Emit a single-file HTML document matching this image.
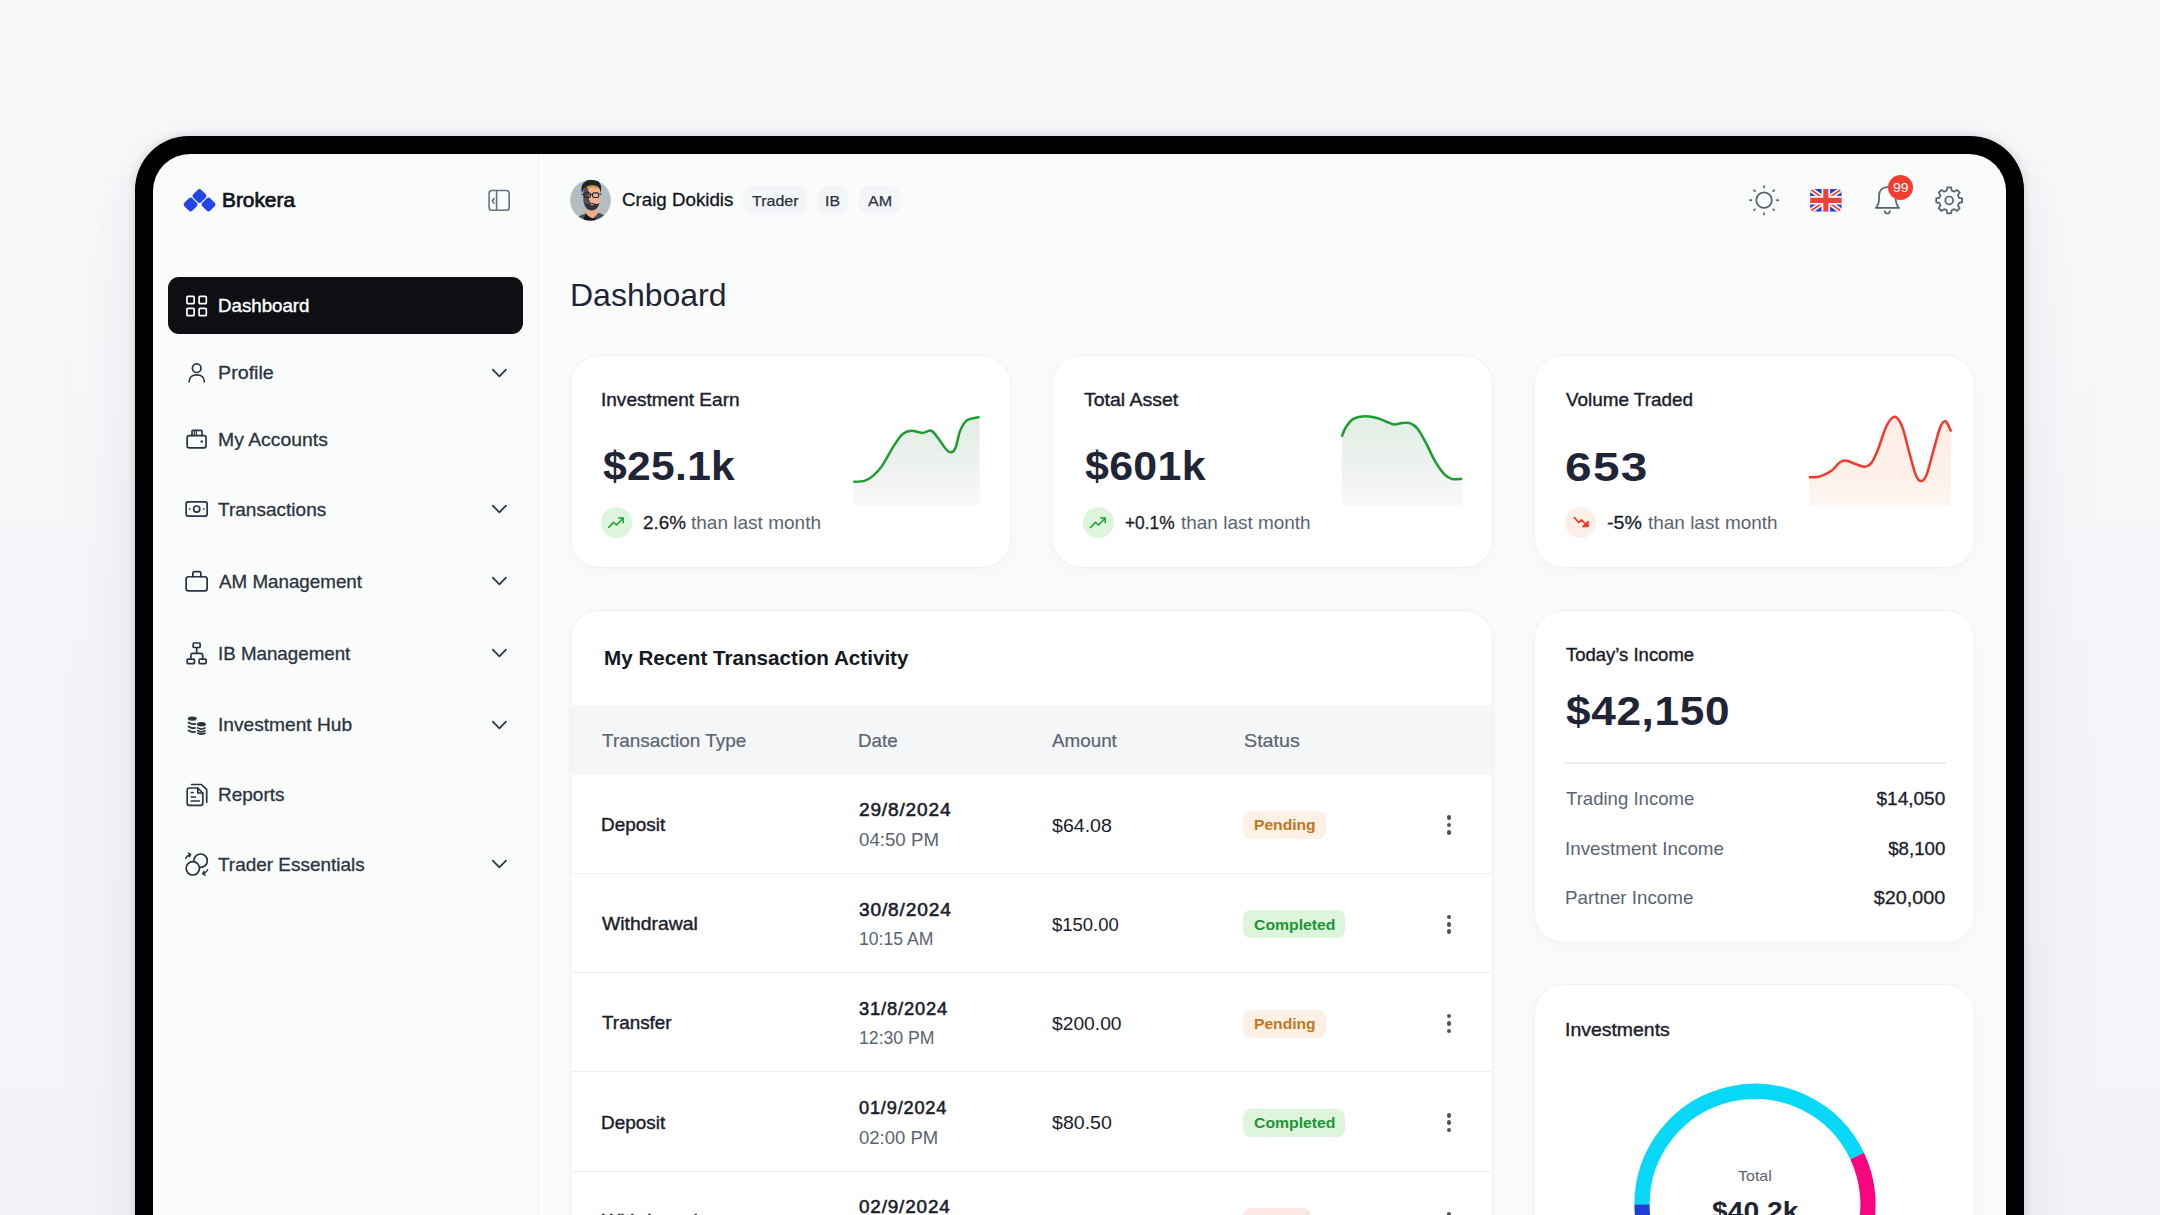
<!DOCTYPE html>
<html lang="en">
<head>
<meta charset="utf-8">
<title>Brokera Dashboard</title>
<style>
*{box-sizing:border-box;margin:0;padding:0}
html,body{width:2160px;height:1215px;overflow:hidden}
body{font-family:"Liberation Sans",sans-serif;background:#f7f8f9;color:#1b202b;position:relative}
.bg{position:absolute;left:0;top:0;width:2160px;height:1215px;background:linear-gradient(180deg,#f8f9fa 0%,#f7f8f9 25%,#f4f5f8 55%,#f3f4f7 100%)}
.device{position:absolute;left:135px;top:136px;width:1889px;height:1300px;background:#000;border-radius:54px;box-shadow:0 0 9px rgba(40,50,80,.17),0 10px 50px rgba(50,60,90,.05),0 30px 110px rgba(50,60,90,.04)}
.screen{position:absolute;left:18px;top:18px;width:1853px;height:1300px;background:#fafbfb;border-radius:37px;overflow:hidden}
.abs{position:absolute}
.t{position:absolute;white-space:nowrap;line-height:1;transform-origin:0 50%;display:block}
.n{font-weight:normal}
.n1{font-weight:normal;-webkit-text-stroke:.2px currentColor}
.m1{font-weight:normal;-webkit-text-stroke:.25px currentColor}
.m{font-weight:normal;-webkit-text-stroke:.28px currentColor}
.m2{font-weight:normal;-webkit-text-stroke:.38px currentColor}
.m3{font-weight:normal;-webkit-text-stroke:.55px currentColor}
.b2{font-weight:normal;-webkit-text-stroke:.7px currentColor}
.b{font-weight:bold}
.sidebar{position:absolute;left:0;top:0;width:386px;height:1300px;border-right:1.5px solid #eef0f2}
.navact{position:absolute;left:15.3px;top:123px;width:355px;height:57px;border-radius:11px;background:#0d0f12}
.ic{fill:none;stroke:#2b3340;stroke-width:1.7;stroke-linecap:round;stroke-linejoin:round}
.card{position:absolute;background:#fff;border-radius:28px;box-shadow:0 0 0 1px #f1f2f4,0 4px 18px rgba(30,40,70,.035)}
.tag{position:absolute;height:29.5px;border-radius:9px;background:#f4f5f8}
.dot{position:absolute;width:31px;height:31px;border-radius:50%}
.thead{position:absolute;left:0;width:100%;background:#f5f6f8}
.sep{position:absolute;left:0;width:100%;height:1px;background:#eff1f3}
.bd{position:absolute;height:28px;border-radius:8px}
.kb{position:absolute;width:4.6px;height:4.6px;border-radius:50%;background:#4a5361}
</style>
</head>
<body>
<div class="bg"></div>
<div class="device">
<div class="screen">

<!-- SIDEBAR -->
<div class="sidebar">
<svg class="abs" style="left:27px;top:30px" width="40" height="32" viewBox="180 184 40 32" ><g fill="#2246e4">
<rect x="-5.6" y="-5.6" width="11.2" height="11.2" rx="2.7" transform="translate(199.5 196) rotate(45)"/>
<rect x="-5.6" y="-5.6" width="11.2" height="11.2" rx="2.7" transform="translate(190.6 204.5) rotate(45)"/>
<rect x="-5.6" y="-5.6" width="11.2" height="11.2" rx="2.7" transform="translate(208.5 204.5) rotate(45)"/>
</g></svg>
<span id="brand" class="t b2" style="left:69.03px;top:36.61px;font-size:19.6px;color:#12151c;transform:scaleX(1.0642)">Brokera</span>
<svg class="abs" style="left:332px;top:32px" width="28" height="28" viewBox="485 186 28 28" fill="none" stroke="#66717f" stroke-width="1.600" stroke-linecap="round" stroke-linejoin="round"><rect x="489.1" y="190.5" width="20.1" height="19.800" rx="2.800"/><path d="M496.600 190.500v19.800"/><path d="M494 198.400l-1.800 2.400 1.800 2.400"/></svg>
<div class="navact"></div>
<svg class="abs" style="left:30px;top:138px" width="28" height="28" viewBox="183 292 28 28" fill="none" stroke="#fff" stroke-width="1.700" stroke-linejoin="round"><rect x="186.950" y="296.450" width="7.200" height="7.200" rx="1"/><rect x="199.100" y="296.450" width="7.200" height="7.200" rx="1"/><rect x="186.950" y="308.450" width="7.200" height="7.200" rx="1"/><rect x="199.100" y="308.450" width="7.200" height="7.200" rx="1"/></svg>
<span id="n0" class="t m2" style="left:65.11px;top:144.13px;font-size:17.8px;color:#ffffff;transform:scaleX(1.0515)">Dashboard</span>
<svg class="abs ic" style="left:30px;top:204px" width="28" height="28" viewBox="183 358 28 28" ><circle cx="196.700" cy="368.200" r="4.300"/><path d="M189.100 381.700C189.100 377.600 192.300 374.900 196.700 374.900S204.300 377.600 204.300 381.700"/></svg>
<span id="n1" class="t m" style="left:64.63px;top:210.83px;font-size:17.8px;color:#2b3340;transform:scaleX(1.1068)">Profile</span>
<svg class="abs ic" style="left:335px;top:210.9px" width="24" height="16" viewBox="488 364.9 24 16" style="stroke-width:1.500;stroke:#1f2530"><path d="M492.800 369.60l6.600 6.600 6.600-6.600"/></svg>
<svg class="abs ic" style="left:30px;top:271px" width="28" height="28" viewBox="183 425 28 28" ><rect x="187.150" y="435.650" width="18.900" height="12.200" rx="2"/><path d="M192 435.600v-4.300a1 1 0 0 1 1-1h8a1 1 0 0 1 1 1v4.300"/><path d="M194.300 430.500v5M196.400 430.500v5" stroke-width="1.200"/><circle cx="201.700" cy="441.500" r="1.200" fill="#2b3340" stroke="none"/></svg>
<span id="n2" class="t m" style="left:65.00px;top:278.03px;font-size:17.8px;color:#2b3340;transform:scaleX(1.0900)">My Accounts</span>
<svg class="abs ic" style="left:30px;top:341px" width="28" height="28" viewBox="183 495 28 28" ><rect x="186.150" y="501.950" width="21" height="14.100" rx="2"/><circle cx="196.700" cy="509.100" r="3.100"/><circle cx="189.700" cy="509.100" r=".9" fill="#2b3340" stroke="none"/><circle cx="203.700" cy="509.100" r=".9" fill="#2b3340" stroke="none"/></svg>
<span id="n3" class="t m" style="left:64.81px;top:347.53px;font-size:17.8px;color:#2b3340;transform:scaleX(1.0703)">Transactions</span>
<svg class="abs ic" style="left:335px;top:346.9px" width="24" height="16" viewBox="488 500.9 24 16" style="stroke-width:1.500;stroke:#1f2530"><path d="M492.800 505.60l6.600 6.600 6.600-6.600"/></svg>
<svg class="abs ic" style="left:30px;top:413px" width="28" height="28" viewBox="183 567 28 28" ><rect x="186.150" y="576.750" width="21" height="14.100" rx="2.400"/><path d="M192.850 576.700v-3.400a1.600 1.600 0 0 1 1.600-1.600h4.800a1.600 1.600 0 0 1 1.600 1.600v3.400"/></svg>
<span id="n4" class="t m" style="left:65.69px;top:419.73px;font-size:17.8px;color:#2b3340;transform:scaleX(1.0560)">AM Management</span>
<svg class="abs ic" style="left:335px;top:419.2px" width="24" height="16" viewBox="488 573.2 24 16" style="stroke-width:1.500;stroke:#1f2530"><path d="M492.800 577.90l6.600 6.600 6.600-6.600"/></svg>
<svg class="abs ic" style="left:30px;top:485px" width="28" height="28" viewBox="183 639 28 28" style="stroke-width:1.600"><rect x="193.200" y="643" width="6.900" height="4.500" rx=".8"/><rect x="187.200" y="659.100" width="7.300" height="4.500" rx=".8"/><rect x="199.100" y="659.100" width="7" height="4.500" rx=".8"/><path d="M196.700 647.600v5.700M190.900 659v-4.100a1.600 1.600 0 0 1 1.600-1.600h8.600a1.600 1.600 0 0 1 1.600 1.600v4.100"/></svg>
<span id="n5" class="t m" style="left:65.02px;top:491.73px;font-size:17.8px;color:#2b3340;transform:scaleX(1.0540)">IB Management</span>
<svg class="abs ic" style="left:335px;top:491.2px" width="24" height="16" viewBox="488 645.2 24 16" style="stroke-width:1.500;stroke:#1f2530"><path d="M492.800 649.90l6.600 6.600 6.600-6.600"/></svg>
<svg class="abs ic" style="left:30px;top:557px" width="28" height="28" viewBox="183 711 28 28" ><ellipse cx="192.250" cy="718.600" rx="4.450" ry="2.200" fill="#2b3340" stroke="none"/>
<path d="M188.600 722.600q3 2.300 6.600 1.200M188.600 726.600q3 2.300 6.400 1.300M188.600 730.500q3 2.300 6.400 1.300" stroke-width="1.900"/>
<ellipse cx="201.350" cy="724.300" rx="4.450" ry="2.200" fill="#2b3340" stroke="none"/>
<path d="M197.700 727.900q3.650 2.500 7.300 0M197.700 730.600q3.650 2.500 7.300 0M197.700 733.100q3.650 2.200 7.300 0" stroke-width="1.700"/></svg>
<span id="n6" class="t m" style="left:64.51px;top:563.33px;font-size:17.8px;color:#2b3340;transform:scaleX(1.0770)">Investment Hub</span>
<svg class="abs ic" style="left:335px;top:563.2px" width="24" height="16" viewBox="488 717.2 24 16" style="stroke-width:1.500;stroke:#1f2530"><path d="M492.800 721.90l6.600 6.600 6.600-6.600"/></svg>
<svg class="abs ic" style="left:30px;top:626px" width="28" height="30" viewBox="183 780 28 30" style="stroke-width:1.600"><path d="M187.200 790a2 2 0 0 1 2-2h8.600l5 5v10.300a2 2 0 0 1-2 2h-11.600a2 2 0 0 1-2-2z"/><path d="M197.800 788.200v4.800h4.800"/><path d="M191.700 784.500h9.800l5.200 5.200v12.500"/><path d="M191.100 792.600h2.200M191.100 797h4.400M191.100 801.100h8.300" stroke-width="1.500"/></svg>
<span id="n7" class="t m" style="left:65.24px;top:633.03px;font-size:17.8px;color:#2b3340;transform:scaleX(1.0687)">Reports</span>
<svg class="abs ic" style="left:29px;top:696px" width="30" height="30" viewBox="182 850 30 30" style="stroke-width:1.600"><circle cx="200.600" cy="860.700" r="6.700"/><circle cx="192.800" cy="868.300" r="6.700" fill="#fafbfb"/><path d="M185.700 858.400c.9-2 2.600-3.300 4.800-3.900M188.300 853l2.400 1.400-1.300 2.400" stroke-width="1.400"/><path d="M207.700 869.800c-.9 2-2.600 3.300-4.800 3.900M205.100 875.200l-2.400-1.400 1.300-2.400" stroke-width="1.400"/></svg>
<span id="n8" class="t m" style="left:64.81px;top:702.53px;font-size:17.8px;color:#2b3340;transform:scaleX(1.0651)">Trader Essentials</span>
<svg class="abs ic" style="left:335px;top:702.3px" width="24" height="16" viewBox="488 856.3 24 16" style="stroke-width:1.500;stroke:#1f2530"><path d="M492.800 861.00l6.600 6.600 6.600-6.600"/></svg>
</div>

<!-- TOPBAR -->
<div class="topbar">
<svg class="abs" style="left:416px;top:25px" width="43" height="43" viewBox="569 179 43 43" ><defs><clipPath id="av"><circle cx="590.500" cy="200.200" r="20.400"/></clipPath></defs>
<g clip-path="url(#av)">
<rect x="569" y="179" width="43" height="43" fill="#b4bec0"/>
<path d="M575.500 222c.5-4 3-6.300 7.500-7.600l5.500-2.200h7l6 1.500c3.500 1.500 5.500 4 6.500 8.300z" fill="#4a505b"/>
<path d="M582.500 222l3-7.500 6.500 3.500 2.500-3.500 1.500 7.500z" fill="#15171b"/>
<path d="M586.500 207l10.500-1.500.8 8-4.300 4.800c-3-.5-5.800-2-7-4.800z" fill="#f0ac8b"/>
<path d="M583.200 192.500c0-5 3.500-8 8.300-8s8.200 3.200 8.200 8v6.500c0 6-3.800 10.500-8 10.500s-8.500-4.500-8.500-10.500z" fill="#f3b091"/>
<path d="M583.200 192.500c0-3 1.500-5.500 3.800-6.800l2.500 8-.5 6 2 3.500-1 6.500c-3.800-.6-6.800-5-6.800-10.700z" fill="#3f4652" opacity=".9"/>
<path d="M586 186.500c1.500-1.200 3.300-1.800 5.500-1.800 3 0 5.500 1.200 7 3.500l-3 .3-2.500-1.500-3 1.200-2.500-.5z" fill="#d89a2e"/>
<path d="M582 193c-1.600-6 .5-10.500 3.800-11.500 1.500-2.200 4.500-2.500 6.200-1.500 3.500-1 7 .8 8.200 4 1.500 2.500 1.200 5.800.3 8.500l-.8-3.500c-.8-2-2.500-3.300-4.800-3.600-3.200-.5-6.200 0-8.700 1.500-2.200 1.300-3.600 3.300-4.200 6.100z" fill="#1f2229"/>
<path d="M584.300 202.500c1.500 1.500 3.200 1.800 5 1.500l2.800-1 3.200.8c1.500.6 2.800.2 4-1-.5 4.500-3.500 7.700-7.600 7.700-3.800 0-6.800-3-7.400-8z" fill="#2f333c"/>
<path d="M590.500 204.800h3" stroke="#f0ac8b" stroke-width="1"/>
<path d="M581.500 194.200l3 .3M599.500 194.200l1.800-.3" stroke="#22252b" stroke-width="1.100"/>
<rect x="584.300" y="192.900" width="6.200" height="4.600" rx="1.800" fill="none" stroke="#22252b" stroke-width="1.100"/>
<rect x="592.500" y="192.900" width="6.200" height="4.600" rx="1.800" fill="none" stroke="#22252b" stroke-width="1.100"/>
<path d="M590.500 194.600h2" stroke="#22252b" stroke-width="1"/>
</g></svg>
<span id="uname" class="t m" style="left:469.13px;top:38.40px;font-size:17.6px;color:#12151c;transform:scaleX(1.0643)">Craig Dokidis</span>
<div class="tag" style="left:590.3px;top:31.6px;width:63.4px"></div>
<span id="tg1" class="t m1" style="left:599.26px;top:39.10px;font-size:15px;color:#2b3340;transform:scaleX(1.0670)">Trader</span>
<div class="tag" style="left:664.5px;top:31.6px;width:30.8px"></div>
<span id="tg2" class="t m1" style="left:672.03px;top:39.10px;font-size:15px;color:#2b3340;transform:scaleX(1.0545)">IB</span>
<div class="tag" style="left:706.2px;top:31.6px;width:40.8px"></div>
<span id="tg3" class="t m1" style="left:714.72px;top:39.10px;font-size:15px;color:#2b3340;transform:scaleX(1.0695)">AM</span>
<svg class="abs" style="left:1593px;top:28px" width="36" height="36" viewBox="1746 182 36 36" fill="none" stroke="#56616d" stroke-width="1.700" stroke-linecap="round"><circle cx="1764.1" cy="200.2" r="7.750"/><path d="M1764.10 187.40L1764.10 186.00M1773.15 191.15L1774.14 190.16M1776.90 200.20L1778.30 200.20M1773.15 209.25L1774.14 210.24M1764.10 213.00L1764.10 214.40M1755.05 209.25L1754.06 210.24M1751.30 200.20L1749.90 200.20M1755.05 191.15L1754.06 190.16"/></svg>
<svg class="abs" style="left:1657px;top:35px" width="32" height="23" viewBox="1810 189 32 23" ><defs><clipPath id="fl"><rect x="1810.200" y="189.100" width="31.300" height="22.400" rx="4.200"/></clipPath></defs>
<g clip-path="url(#fl)">
<rect x="1810" y="189" width="32" height="23" fill="#2140d2"/>
<path d="M1810.200 189.100l31.300 22.400M1841.500 189.100l-31.300 22.400" stroke="#fff" stroke-width="5"/>
<path d="M1810.200 189.100l31.300 22.400M1841.500 189.100l-31.300 22.400" stroke="#f4403a" stroke-width="1.800"/>
<path d="M1825.850 189v23M1810 200.300h32" stroke="#fff" stroke-width="8.600"/>
<path d="M1825.850 189v23M1810 200.300h32" stroke="#f4403a" stroke-width="5.200"/>
</g></svg>
<svg class="abs" style="left:1717px;top:28px" width="36" height="36" viewBox="1870 182 36 36" fill="none" stroke="#56616d" stroke-width="1.700" stroke-linecap="round" stroke-linejoin="round"><path d="M1875.800 207.900h23.200c-2.300-2.500-3.300-5-3.300-9.400v-2.900c0-5.200-3.300-8.400-8.300-8.400s-8.300 3.200-8.300 8.400v2.900c0 4.400-1 6.900-3.300 9.400z"/><path d="M1884.800 211.200c.4 1.500 1.400 2.300 2.600 2.300s2.200-.8 2.600-2.300"/></svg>
<div class="abs" style="left:1734.5px;top:20.6px;width:25.6px;height:25.6px;border-radius:50%;background:#f43d2f"></div>
<span id="b99" class="t n" style="left:1739.80px;top:27.00px;font-size:13px;color:#ffffff;transform:scaleX(1.0800)">99</span>
<svg class="abs" style="left:1779px;top:29px" width="35" height="35" viewBox="1932 183 35 35" fill="none" stroke="#56616d" stroke-width="1.700" stroke-linecap="round" stroke-linejoin="round"><path d="M1946.67 190.62L1947.26 187.44L1951.14 187.44L1951.73 190.62A10.10 10.10 0 0 1 1954.33 191.70L1956.99 189.87L1959.73 192.61L1957.90 195.27A10.10 10.10 0 0 1 1958.98 197.87L1962.16 198.46L1962.16 202.34L1958.98 202.93A10.10 10.10 0 0 1 1957.90 205.53L1959.73 208.19L1956.99 210.93L1954.33 209.10A10.10 10.10 0 0 1 1951.73 210.18L1951.14 213.36L1947.26 213.36L1946.67 210.18A10.10 10.10 0 0 1 1944.07 209.10L1941.41 210.93L1938.67 208.19L1940.50 205.53A10.10 10.10 0 0 1 1939.42 202.93L1936.24 202.34L1936.24 198.46L1939.42 197.87A10.10 10.10 0 0 1 1940.50 195.27L1938.67 192.61L1941.41 189.87L1944.07 191.70A10.10 10.10 0 0 1 1946.67 190.62Z"/><circle cx="1949.200" cy="200.400" r="3.900"/></svg>
</div>

<!-- MAIN -->
<div class="main">
<svg width="0" height="0" style="position:absolute"><defs><linearGradient id="g1" x1="0" y1="0" x2="0" y2="1"><stop offset="0" stop-color="#e2eee3"/><stop offset=".5" stop-color="#ecf1ee"/><stop offset="1" stop-color="#f8f9f9"/></linearGradient><linearGradient id="g3" x1="0" y1="0" x2="0" y2="1"><stop offset="0" stop-color="#fdeee6"/><stop offset=".7" stop-color="#fdf1ea"/><stop offset="1" stop-color="#fef7f3"/></linearGradient></defs></svg>
<span id="title" class="t n" style="left:417.06px;top:125.99px;font-size:31.2px;color:#1f2535;transform:scaleX(1.0259)">Dashboard</span>
<div class="card" style="left:418px;top:201.5px;width:438.500px;height:211.500px">
<span id="c1t" class="t m2" style="left:29.92px;top:36.13px;font-size:17.8px;color:#1b202b;transform:scaleX(1.0701)">Investment Earn</span>
<span id="c1v" class="t b" style="left:31.69px;top:90.92px;font-size:41.2px;color:#1f2535;transform:scaleX(1.0340);letter-spacing:0.3px">$25.1k</span>
<svg class="abs" style="left:278px;top:52.5px" width="136" height="102" viewBox="849 408 136 102" ><path fill="url(#g1)" d="M853.3 481.8C855.2 481.6 861.1 481.9 864.4 480.9C867.8 479.9 870.4 478.1 873.3 475.6C876.3 473.0 878.9 470.4 882.2 465.6C885.6 460.7 890.0 451.9 893.3 446.7C896.7 441.5 899.3 437.1 902.2 434.4C905.2 431.8 907.8 430.9 911.1 430.7C914.4 430.4 918.9 432.9 922.2 432.9C925.6 432.9 928.5 429.9 931.1 430.7C933.7 431.5 935.2 434.6 937.8 437.8C940.4 441.0 944.4 447.6 946.7 450.0C949.0 452.4 950.0 452.8 951.6 452.2C953.1 451.7 954.6 450.2 956.0 446.7C957.4 443.1 958.2 435.5 960.0 431.1C961.8 426.7 963.4 422.8 966.7 420.4C969.9 418.1 977.4 417.5 979.6 416.9L979.6 506L853.3 506Z"/><path fill="none" stroke="#1b9e30" stroke-width="2.500" d="M853.3 481.8C855.2 481.6 861.1 481.9 864.4 480.9C867.8 479.9 870.4 478.1 873.3 475.6C876.3 473.0 878.9 470.4 882.2 465.6C885.6 460.7 890.0 451.9 893.3 446.7C896.7 441.5 899.3 437.1 902.2 434.4C905.2 431.8 907.8 430.9 911.1 430.7C914.4 430.4 918.9 432.9 922.2 432.9C925.6 432.9 928.5 429.9 931.1 430.7C933.7 431.5 935.2 434.6 937.8 437.8C940.4 441.0 944.4 447.6 946.7 450.0C949.0 452.4 950.0 452.8 951.6 452.2C953.1 451.7 954.6 450.2 956.0 446.7C957.4 443.1 958.2 435.5 960.0 431.1C961.8 426.7 963.4 422.8 966.7 420.4C969.9 418.1 977.4 417.5 979.6 416.9"/></svg>
<div class="dot" style="left:29.8px;top:151.6px;background:#dcf5db"></div>
<svg class="abs" style="left:33px;top:156.5px" width="24" height="22" viewBox="604 512 24 22" fill="none" stroke="#1b9e30" stroke-width="1.500" stroke-linecap="round" stroke-linejoin="round"><g transform="translate(0 0)"><path d="M608.600 527.400l4.900-5.100 3 2.700 6.400-6.600"/><path d="M618.600 518.100h4.600v4.600"/></g></svg>
<span id="c1p" class="t m" style="left:71.61px;top:159.33px;font-size:17.8px;color:#1b202b;transform:scaleX(1.0584)">2.6%</span>
<span id="c1m" class="t n" style="left:120.01px;top:159.33px;font-size:17.8px;color:#5b6472;transform:scaleX(1.0698)">than last month</span>
</div>
<div class="card" style="left:900px;top:201.5px;width:438.500px;height:211.500px">
<span id="c2t" class="t m2" style="left:30.96px;top:36.33px;font-size:17.8px;color:#1b202b;transform:scaleX(1.0957)">Total Asset</span>
<span id="c2v" class="t b" style="left:31.64px;top:90.02px;font-size:41.2px;color:#1f2535;transform:scaleX(1.0411);letter-spacing:0.3px">$601k</span>
<svg class="abs" style="left:284px;top:52.5px" width="130" height="102" viewBox="1337 408 130 102" ><path fill="url(#g1)" d="M1341.8 436.7C1342.4 435.2 1343.6 430.7 1345.6 427.8C1347.5 424.8 1350.0 420.8 1353.3 418.9C1356.7 417.0 1361.5 416.3 1365.6 416.2C1369.6 416.1 1373.9 417.1 1377.8 418.2C1381.7 419.3 1386.1 421.6 1388.9 422.7C1391.7 423.7 1392.2 424.4 1394.4 424.4C1396.7 424.5 1399.6 423.3 1402.2 423.1C1404.8 422.9 1407.4 422.1 1410.0 423.1C1412.6 424.1 1415.0 425.3 1417.8 428.9C1420.6 432.4 1423.7 438.9 1426.7 444.4C1429.6 450.0 1432.6 457.2 1435.6 462.2C1438.5 467.2 1441.7 471.6 1444.4 474.4C1447.2 477.3 1449.3 478.4 1452.2 479.1C1455.2 479.8 1460.6 478.7 1462.2 478.7L1462.2 506L1341.8 506Z"/><path fill="none" stroke="#1b9e30" stroke-width="2.500" d="M1341.8 436.7C1342.4 435.2 1343.6 430.7 1345.6 427.8C1347.5 424.8 1350.0 420.8 1353.3 418.9C1356.7 417.0 1361.5 416.3 1365.6 416.2C1369.6 416.1 1373.9 417.1 1377.8 418.2C1381.7 419.3 1386.1 421.6 1388.9 422.7C1391.7 423.7 1392.2 424.4 1394.4 424.4C1396.7 424.5 1399.6 423.3 1402.2 423.1C1404.8 422.9 1407.4 422.1 1410.0 423.1C1412.6 424.1 1415.0 425.3 1417.8 428.9C1420.6 432.4 1423.7 438.9 1426.7 444.4C1429.6 450.0 1432.6 457.2 1435.6 462.2C1438.5 467.2 1441.7 471.6 1444.4 474.4C1447.2 477.3 1449.3 478.4 1452.2 479.1C1455.2 479.8 1460.6 478.7 1462.2 478.7"/></svg>
<div class="dot" style="left:29.8px;top:151.6px;background:#dcf5db"></div>
<svg class="abs" style="left:33px;top:156.5px" width="24" height="22" viewBox="1086 512 24 22" fill="none" stroke="#1b9e30" stroke-width="1.500" stroke-linecap="round" stroke-linejoin="round"><g transform="translate(482 0)"><path d="M608.600 527.400l4.900-5.100 3 2.700 6.400-6.600"/><path d="M618.600 518.100h4.600v4.600"/></g></svg>
<span id="c2p" class="t m" style="left:71.89px;top:159.13px;font-size:17.8px;color:#1b202b;transform:scaleX(0.9746)">+0.1%</span>
<span id="c2m" class="t n" style="left:127.51px;top:159.13px;font-size:17.8px;color:#5b6472;transform:scaleX(1.0665)">than last month</span>
</div>
<div class="card" style="left:1382px;top:201.5px;width:438.500px;height:211.500px">
<span id="c3t" class="t m2" style="left:30.92px;top:36.33px;font-size:17.8px;color:#1b202b;transform:scaleX(1.0616)">Volume Traded</span>
<span id="c3v" class="t b" style="left:30.05px;top:91.32px;font-size:41.2px;color:#1f2535;transform:scaleX(1.1587);letter-spacing:1.2px">653</span>
<svg class="abs" style="left:269px;top:52.5px" width="152" height="102" viewBox="1804 408 152 102" ><path fill="url(#g3)" d="M1808.9 477.3C1810.7 477.2 1816.3 477.5 1820.0 476.4C1823.7 475.4 1827.8 473.5 1831.1 471.1C1834.4 468.7 1837.4 464.0 1840.0 462.2C1842.6 460.5 1844.1 460.4 1846.7 460.7C1849.3 461.0 1852.6 463.0 1855.6 464.0C1858.5 465.0 1861.9 466.8 1864.4 466.7C1867.0 466.6 1868.9 466.1 1871.1 463.3C1873.3 460.6 1875.2 456.3 1877.8 450.0C1880.4 443.7 1883.8 431.1 1886.7 425.6C1889.6 420.0 1892.5 416.5 1895.1 416.7C1897.7 416.9 1899.9 420.9 1902.2 426.7C1904.5 432.4 1906.7 443.1 1908.9 451.1C1911.1 459.1 1913.5 469.4 1915.6 474.4C1917.6 479.4 1919.3 481.1 1921.1 481.1C1923.0 481.1 1924.6 479.4 1926.7 474.4C1928.7 469.4 1931.1 458.9 1933.3 451.1C1935.6 443.3 1938.1 432.8 1940.0 427.8C1941.9 422.8 1943.5 421.5 1944.9 421.1C1946.3 420.7 1947.4 423.8 1948.4 425.6C1949.5 427.3 1950.7 430.6 1951.1 431.6L1951.1 506L1808.9 506Z"/><path fill="none" stroke="#f4382c" stroke-width="2.500" d="M1808.9 477.3C1810.7 477.2 1816.3 477.5 1820.0 476.4C1823.7 475.4 1827.8 473.5 1831.1 471.1C1834.4 468.7 1837.4 464.0 1840.0 462.2C1842.6 460.5 1844.1 460.4 1846.7 460.7C1849.3 461.0 1852.6 463.0 1855.6 464.0C1858.5 465.0 1861.9 466.8 1864.4 466.7C1867.0 466.6 1868.9 466.1 1871.1 463.3C1873.3 460.6 1875.2 456.3 1877.8 450.0C1880.4 443.7 1883.8 431.1 1886.7 425.6C1889.6 420.0 1892.5 416.5 1895.1 416.7C1897.7 416.9 1899.9 420.9 1902.2 426.7C1904.5 432.4 1906.7 443.1 1908.9 451.1C1911.1 459.1 1913.5 469.4 1915.6 474.4C1917.6 479.4 1919.3 481.1 1921.1 481.1C1923.0 481.1 1924.6 479.4 1926.7 474.4C1928.7 469.4 1931.1 458.9 1933.3 451.1C1935.6 443.3 1938.1 432.8 1940.0 427.8C1941.9 422.8 1943.5 421.5 1944.9 421.1C1946.3 420.7 1947.4 423.8 1948.4 425.6C1949.5 427.3 1950.7 430.6 1951.1 431.6"/></svg>
<div class="dot" style="left:29.8px;top:151.6px;background:#fdeee6"></div>
<svg class="abs" style="left:33.5px;top:156.5px" width="24" height="22" viewBox="1568.5 512 24 22" fill="none" stroke="#f4382c" stroke-width="1.600" stroke-linecap="round" stroke-linejoin="round"><g transform="translate(964.5 0)"><path d="M609.400 517.600l4.200 5 3-2.700 5.200 5.600"/><path d="M623 521.500v5h-5z" fill="#f4382c"/></g></svg>
<span id="c3p" class="t m" style="left:71.85px;top:159.13px;font-size:17.8px;color:#1b202b;transform:scaleX(1.1006)">-5%</span>
<span id="c3m" class="t n" style="left:113.01px;top:159.13px;font-size:17.8px;color:#5b6472;transform:scaleX(1.0655)">than last month</span>
</div>
<div class="card" style="left:418px;top:456.5px;width:921px;height:800px;overflow:hidden">
<span id="trh" class="t b" style="left:33.35px;top:38.34px;font-size:19.8px;color:#14181f;transform:scaleX(1.0439)">My Recent Transaction Activity</span>
<div class="thead" style="top:94.7px;height:69.6px"></div>
<span id="th1" class="t n1" style="left:30.75px;top:122.43px;font-size:17.8px;color:#5b6472;transform:scaleX(1.0661)">Transaction Type</span>
<span id="th2" class="t n1" style="left:287.39px;top:122.43px;font-size:17.8px;color:#5b6472;transform:scaleX(1.0530)">Date</span>
<span id="th3" class="t n1" style="left:481.08px;top:122.43px;font-size:17.8px;color:#5b6472;transform:scaleX(1.0580)">Amount</span>
<span id="th4" class="t n1" style="left:672.55px;top:122.43px;font-size:17.8px;color:#5b6472;transform:scaleX(1.1082)">Status</span>
<div class="sep" style="top:262.5px"></div>
<span id="r0t" class="t m2" style="left:30.32px;top:206.23px;font-size:17.8px;color:#1b202b;transform:scaleX(1.0651)">Deposit</span>
<span id="r0d" class="t m3" style="left:287.54px;top:191.43px;font-size:17.8px;color:#1b202b;transform:scaleX(1.0696);letter-spacing:0.8px">29/8/2024</span>
<span id="r0h" class="t n" style="left:287.76px;top:221.23px;font-size:17.8px;color:#5b6472;transform:scaleX(1.0508)">04:50 PM</span>
<span id="r0a" class="t n" style="left:481.37px;top:207.13px;font-size:17.8px;color:#1b202b;transform:scaleX(1.0997)">$64.08</span>
<div class="bd" style="left:672px;top:200.5px;width:82.8px;background:#fdf0e5"></div>
<span id="r0b" class="t b" style="left:682.70px;top:206.10px;font-size:15px;color:#bf771d;transform:scaleX(1.0406)">Pending</span>
<i class="kb" style="left:875.5px;top:204.9px"></i>
<i class="kb" style="left:875.5px;top:212.2px"></i>
<i class="kb" style="left:875.5px;top:219.5px"></i>
<div class="sep" style="top:361.5px"></div>
<span id="r1t" class="t m2" style="left:31.20px;top:305.48px;font-size:17.8px;color:#1b202b;transform:scaleX(1.0887)">Withdrawal</span>
<span id="r1d" class="t m3" style="left:287.59px;top:291.68px;font-size:17.8px;color:#1b202b;transform:scaleX(1.0735);letter-spacing:0.8px">30/8/2024</span>
<span id="r1h" class="t n" style="left:287.54px;top:320.48px;font-size:17.8px;color:#5b6472;transform:scaleX(0.9893)">10:15 AM</span>
<span id="r1a" class="t n" style="left:480.76px;top:306.38px;font-size:17.8px;color:#1b202b;transform:scaleX(1.0394)">$150.00</span>
<div class="bd" style="left:672.4px;top:299.75px;width:101.6px;background:#dcf5db"></div>
<span id="r1b" class="t b" style="left:682.74px;top:306.35px;font-size:15px;color:#1c9636;transform:scaleX(1.0503)">Completed</span>
<i class="kb" style="left:875.5px;top:304.15px"></i>
<i class="kb" style="left:875.5px;top:311.45px"></i>
<i class="kb" style="left:875.5px;top:318.75px"></i>
<div class="sep" style="top:460.5px"></div>
<span id="r2t" class="t m2" style="left:31.10px;top:404.73px;font-size:17.8px;color:#1b202b;transform:scaleX(1.0628)">Transfer</span>
<span id="r2d" class="t m3" style="left:288.21px;top:390.93px;font-size:17.8px;color:#1b202b;transform:scaleX(1.0314);letter-spacing:0.8px">31/8/2024</span>
<span id="r2h" class="t n" style="left:287.87px;top:419.73px;font-size:17.8px;color:#5b6472;transform:scaleX(0.9931)">12:30 PM</span>
<span id="r2a" class="t n" style="left:480.50px;top:405.63px;font-size:17.8px;color:#1b202b;transform:scaleX(1.0820)">$200.00</span>
<div class="bd" style="left:672px;top:399px;width:82.8px;background:#fdf0e5"></div>
<span id="r2b" class="t b" style="left:682.70px;top:405.60px;font-size:15px;color:#bf771d;transform:scaleX(1.0406)">Pending</span>
<i class="kb" style="left:875.5px;top:403.4px"></i>
<i class="kb" style="left:875.5px;top:410.7px"></i>
<i class="kb" style="left:875.5px;top:418px"></i>
<div class="sep" style="top:560.5px"></div>
<span id="r3t" class="t m2" style="left:30.32px;top:504.98px;font-size:17.8px;color:#1b202b;transform:scaleX(1.0651)">Deposit</span>
<span id="r3d" class="t m3" style="left:288.35px;top:489.18px;font-size:17.8px;color:#1b202b;transform:scaleX(1.0217);letter-spacing:0.8px">01/9/2024</span>
<span id="r3h" class="t n" style="left:287.92px;top:519.98px;font-size:17.8px;color:#5b6472;transform:scaleX(1.0402)">02:00 PM</span>
<span id="r3a" class="t n" style="left:481.35px;top:504.88px;font-size:17.8px;color:#1b202b;transform:scaleX(1.1011)">$80.50</span>
<div class="bd" style="left:672.4px;top:498.25px;width:101.6px;background:#dcf5db"></div>
<span id="r3b" class="t b" style="left:682.74px;top:504.85px;font-size:15px;color:#1c9636;transform:scaleX(1.0503)">Completed</span>
<i class="kb" style="left:875.5px;top:502.65px"></i>
<i class="kb" style="left:875.5px;top:509.95px"></i>
<i class="kb" style="left:875.5px;top:517.25px"></i>
<div class="sep" style="top:659.5px"></div>
<span id="r4t" class="t m2" style="left:31.16px;top:602.23px;font-size:17.8px;color:#1b202b;transform:scaleX(1.0887)">Withdrawal</span>
<span id="r4d" class="t m3" style="left:287.90px;top:588.43px;font-size:17.8px;color:#1b202b;transform:scaleX(1.0610);letter-spacing:0.8px">02/9/2024</span>
<span id="r4h" class="t n" style="left:288.40px;top:617.23px;font-size:17.8px;color:#5b6472;transform:scaleX(0.9893)">09:45 AM</span>
<span id="r4a" class="t n" style="left:480.90px;top:603.13px;font-size:17.8px;color:#1b202b;transform:scaleX(1.0394)">$120.00</span>
<div class="bd" style="left:672px;top:597.5px;width:67.5px;background:#fde8e3"></div>
<span id="r4b" class="t b" style="left:683.40px;top:604.10px;font-size:15px;color:#d8392b;transform:scaleX(1.0406)">Failed</span>
<i class="kb" style="left:875.5px;top:601.9px"></i>
<i class="kb" style="left:875.5px;top:609.2px"></i>
<i class="kb" style="left:875.5px;top:616.5px"></i>
</div>
<div class="card" style="left:1382.3px;top:456.5px;width:438.500px;height:331px">
<span id="int" class="t m2" style="left:30.82px;top:36.83px;font-size:17.8px;color:#1b202b;transform:scaleX(1.0394)">Today’s Income</span>
<span id="inv" class="t b" style="left:30.71px;top:79.47px;font-size:41.5px;color:#1f2535;transform:scaleX(1.0640);letter-spacing:0.6px">$42,150</span>
<div class="abs" style="left:29.5px;top:151.6px;width:381px;height:1.500px;background:#eceef1"></div>
<span id="il1" class="t n" style="left:31.06px;top:180.23px;font-size:17.8px;color:#5b6472;transform:scaleX(1.0441)">Trading Income</span>
<span id="iv1" class="t m" style="right:28.78px;top:180.23px;font-size:17.8px;color:#1b202b;transform:scaleX(1.0707);transform-origin:100% 50%">$14,050</span>
<span id="il2" class="t n" style="left:29.78px;top:230.03px;font-size:17.8px;color:#5b6472;transform:scaleX(1.0584)">Investment Income</span>
<span id="iv2" class="t m" style="right:28.25px;top:230.03px;font-size:17.8px;color:#1b202b;transform:scaleX(1.0512);transform-origin:100% 50%">$8,100</span>
<span id="il3" class="t n" style="left:29.64px;top:279.63px;font-size:17.8px;color:#5b6472;transform:scaleX(1.0561)">Partner Income</span>
<span id="iv3" class="t m" style="right:28.63px;top:279.63px;font-size:17.8px;color:#1b202b;transform:scaleX(1.1129);transform-origin:100% 50%">$20,000</span>
</div>
<div class="card" style="left:1382.3px;top:831.2px;width:438.500px;height:500px">
<span id="ivt" class="t m2" style="left:29.73px;top:37.03px;font-size:17.8px;color:#1b202b;transform:scaleX(1.0930)">Investments</span>
<svg class="abs" style="left:89.7px;top:89.8px" width="260" height="260" viewBox="1625 1075 260 260" fill="none" stroke-width="15.200"><path d="M1811.50 1302.16A113 113 0 0 1 1642.00 1204.30" stroke="#1d3fd6"/><path d="M1642.00 1204.30A113 113 0 0 1 1857.16 1156.01" stroke="#07d8f8"/><path d="M1857.16 1156.01A113 113 0 0 1 1811.50 1302.16" stroke="#f8067f"/></svg>
<span id="dtot" class="t n" style="left:202.93px;top:182.40px;font-size:15px;color:#5b6472;transform:scaleX(1.0672)">Total</span>
<span id="dval" class="t b" style="left:176.40px;top:212.67px;font-size:26.5px;color:#1f2535;transform:scaleX(1.0660)">$40.2k</span>
</div>
</div>

</div>
</div>
</body>
</html>
